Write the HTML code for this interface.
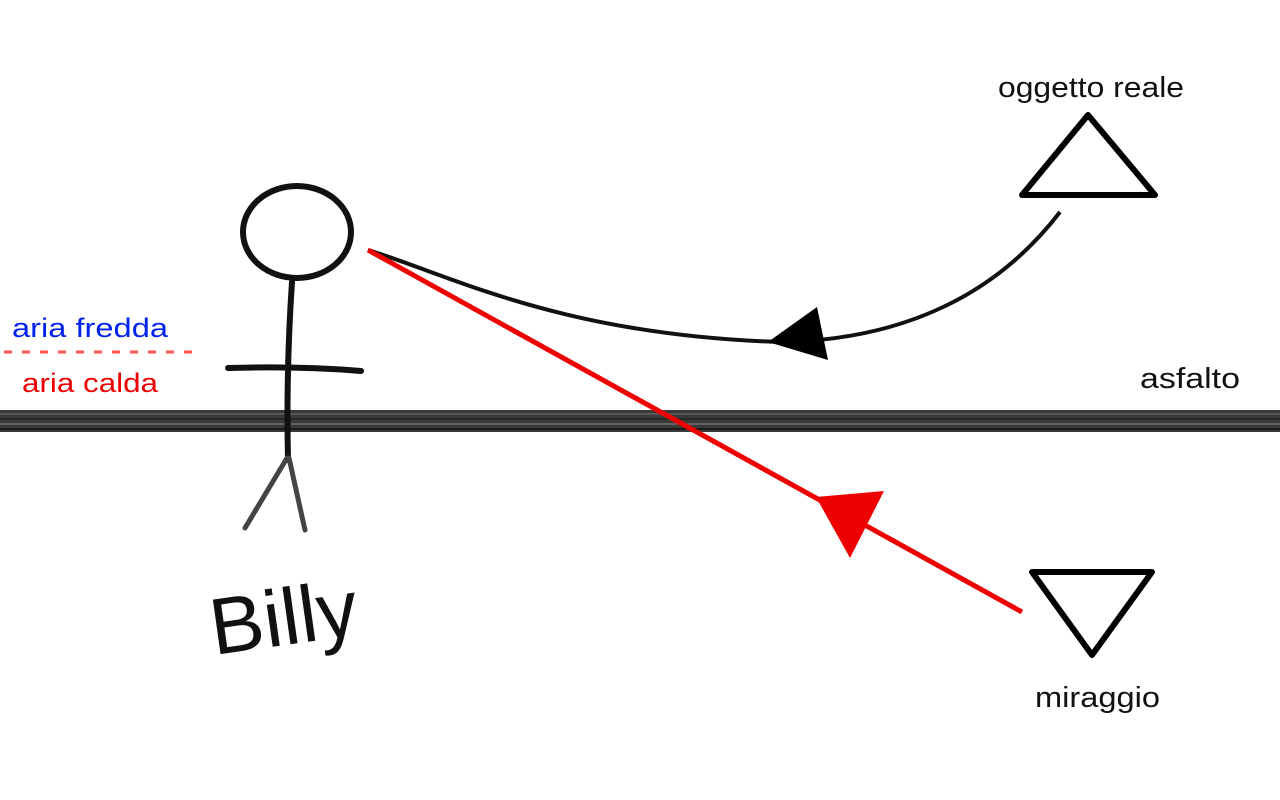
<!DOCTYPE html>
<html><head><meta charset="utf-8"><style>
html,body{margin:0;padding:0;background:#fff;width:1280px;height:800px;overflow:hidden}
svg{display:block}
text{font-family:"Liberation Sans","DejaVu Sans",sans-serif}
</style></head><body>
<svg width="1280" height="800" viewBox="0 0 1280 800">
  <rect width="1280" height="800" fill="#fff"/>
  <g>
    <rect x="0" y="410" width="1280" height="22" fill="#3a3a3a"/>
    <line x1="0" y1="414" x2="1280" y2="414" stroke="#777" stroke-width="1"/>
    <line x1="0" y1="419" x2="1280" y2="419" stroke="#222" stroke-width="1.5"/>
    <line x1="0" y1="424" x2="1280" y2="424" stroke="#888" stroke-width="1"/>
    <line x1="0" y1="429" x2="1280" y2="429" stroke="#111" stroke-width="1.5"/>
  </g>
  <g stroke="#111" fill="none" stroke-linecap="round">
    <ellipse cx="297" cy="232" rx="54" ry="46" stroke-width="6"/>
    <path d="M292,282 Q286,370 288,460" stroke-width="6"/>
    <path d="M228,368 Q300,366 361,371" stroke-width="6"/>
    <path d="M287,458 L245,528" stroke-width="5" stroke="#444"/>
    <path d="M289,458 L305,530" stroke-width="5" stroke="#444"/>
  </g>
  <text x="0" y="0" font-size="80" fill="#111" textLength="148" lengthAdjust="spacingAndGlyphs" transform="translate(214,655) rotate(-8)">Billy</text>
  <path d="M4,352 L195,352" stroke="#f55" stroke-width="3" stroke-dasharray="8,10"/>
  <text x="12" y="337" font-size="27" fill="#0022ee" textLength="156" lengthAdjust="spacingAndGlyphs">aria fredda</text>
  <text x="22" y="392" font-size="27" fill="#ee0000" textLength="136" lengthAdjust="spacingAndGlyphs">aria calda</text>
  <path d="M368,250 C450,275 560,335 780,342 C910,340 1000,290 1060,212" stroke="#111" stroke-width="4" fill="none"/>
  <polygon points="768,342 817,307 828,360" fill="#000"/>
  <line x1="368" y1="250" x2="1022" y2="612" stroke="#ee0000" stroke-width="5"/>
  <polygon points="816,497 884,491 850,558" fill="#ee0000"/>
  <polygon points="1022,195 1088,115 1155,195" fill="none" stroke="#000" stroke-width="6" stroke-linejoin="round"/>
  <polygon points="1032,572 1152,572 1092,655" fill="none" stroke="#000" stroke-width="6" stroke-linejoin="round"/>
  <text x="998" y="97" font-size="29" fill="#111" textLength="186" lengthAdjust="spacingAndGlyphs">oggetto reale</text>
  <text x="1140" y="388" font-size="29" fill="#111" textLength="100" lengthAdjust="spacingAndGlyphs">asfalto</text>
  <text x="1035" y="707" font-size="29" fill="#111" textLength="125" lengthAdjust="spacingAndGlyphs">miraggio</text>
</svg>
</body></html>
